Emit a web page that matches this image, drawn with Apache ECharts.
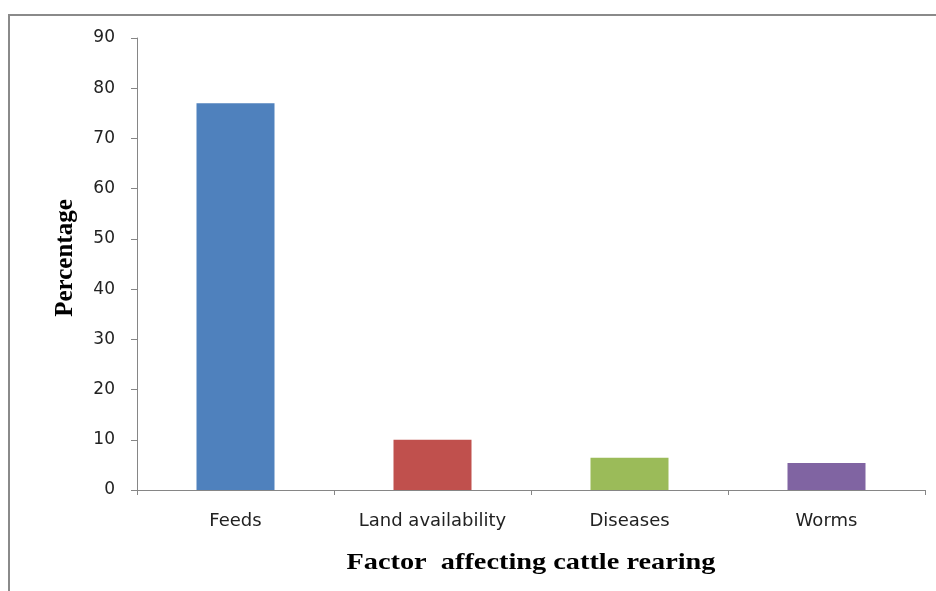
<!DOCTYPE html>
<html>
<head>
<meta charset="utf-8">
<script src="https://cdn.jsdelivr.net/npm/echarts@6/dist/echarts.min.js"></script>
<style>
  html, body { margin: 0; padding: 0; background: #fff; }
  #chart { width: 936px; height: 591px; }
</style>
</head>
<body>
<div id="chart"></div>
<script>
// Factors affecting cattle rearing (percentage of respondents)
const categories = ['Feeds', 'Land availability', 'Diseases', 'Worms'];
const percentages = [77, 10, 6.4, 5.4];
const barColors = ['#4F81BD', '#C0504D', '#9BBB59', '#8064A2'];
const xTitle = 'Factor  affecting cattle rearing';
const yTitle = 'Percentage';

const chart = echarts.init(document.getElementById('chart'));
const axisGray = '#868686';
const titleFont = { fontFamily: 'Liberation Serif', fontWeight: 'bold', fontSize: 24, color: '#000' };

chart.setOption({
  animation: false,
  backgroundColor: '#ffffff',
  graphic: [
    {
      type: 'rect',
      shape: { x: 9, y: 15, width: 1200, height: 1000 },
      style: { fill: 'none', stroke: '#8a8a8a', lineWidth: 2 },
      silent: true
    },
    {
      // horizontal axis title, slightly widened
      type: 'text',
      x: 531,
      y: 563,
      scaleX: 1.18,
      style: {
        text: xTitle,
        fill: titleFont.color,
        font: 'bold 24px "Liberation Serif"',
        textAlign: 'center',
        textVerticalAlign: 'middle'
      },
      silent: true
    }
  ],
  grid: { left: 137, right: 11, top: 38, bottom: 101 },
  xAxis: {
    type: 'category',
    data: categories,
    axisLine: { lineStyle: { color: axisGray, width: 1 } },
    axisTick: { show: true, length: 5, lineStyle: { color: axisGray } },
    axisLabel: { fontFamily: 'DejaVu Sans', fontSize: 18, color: '#222', margin: 22 }
  },
  yAxis: {
    type: 'value',
    min: 0,
    max: 90,
    interval: 10,
    name: yTitle,
    nameLocation: 'middle',
    nameGap: 59,
    nameTextStyle: Object.assign({ padding: [0, 0, 0, 12] }, titleFont, { fontSize: 25 }),
    axisLine: { show: true, lineStyle: { color: axisGray, width: 1 } },
    axisTick: { show: true, length: 6, lineStyle: { color: axisGray } },
    splitLine: { show: false },
    axisLabel: { fontFamily: 'DejaVu Sans', fontSize: 17, color: '#222', margin: 22 }
  },
  series: [{
    type: 'bar',
    data: percentages.map((v, i) => ({ value: v, itemStyle: { color: barColors[i] } })),
    barWidth: 78
  }]
});
</script>
</body>
</html>
